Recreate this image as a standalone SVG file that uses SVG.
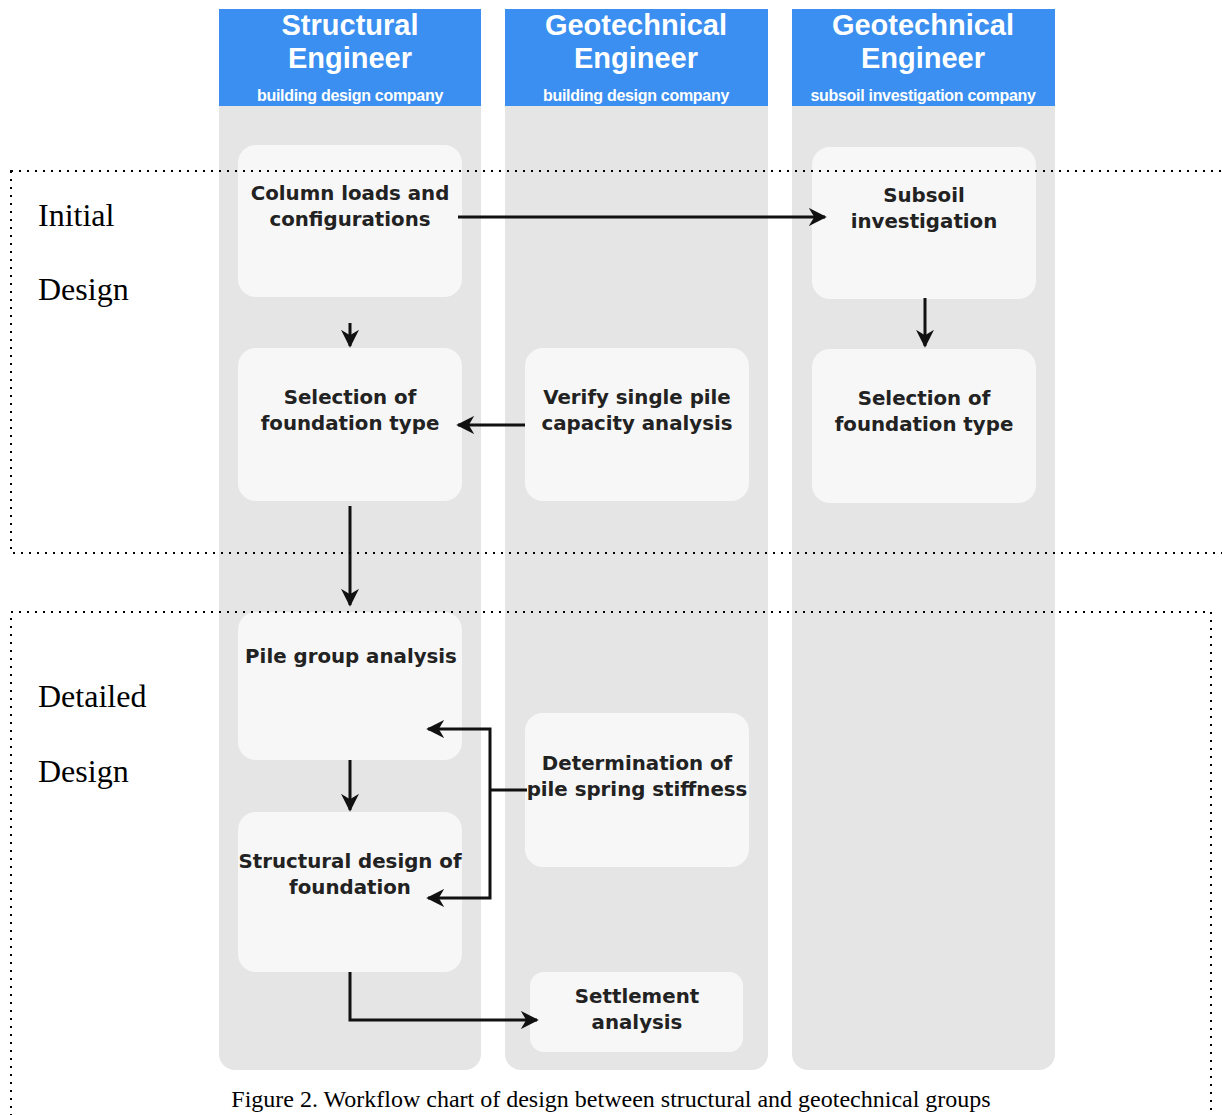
<svg xmlns="http://www.w3.org/2000/svg" width="1222" height="1115" viewBox="0 0 1222 1115">
  <defs>
    <marker id="arr" viewBox="0 0 10 10" refX="9" refY="5" markerWidth="6" markerHeight="6" orient="auto" markerUnits="strokeWidth">
      <path d="M0,0 L10,5 L0,10 L3,5 Z" fill="#111"/>
    </marker>
  </defs>
  <style>
    .lane { fill: #e5e5e5; }
    .head { fill: #3a8ff0; }
    .htitle { font-family: "Liberation Sans", Arial, sans-serif; font-weight: bold; font-size: 29px; fill: #fff; text-anchor: middle; }
    .hsub { font-family: "Liberation Sans", Arial, sans-serif; font-weight: bold; font-size: 16px; fill: #fff; text-anchor: middle; letter-spacing: -0.3px; }
    .node { fill: #f7f7f7; }
    .ntext { font-family: "DejaVu Sans", Verdana, sans-serif; font-weight: bold; font-size: 19.8px; fill: #222; text-anchor: middle; }
    .conn { fill: none; stroke: #111; stroke-width: 3; }
    .zone { fill: none; stroke: #000; stroke-width: 2; stroke-dasharray: 2 6; }
    .serif { font-family: "Liberation Serif", "Times New Roman", serif; fill: #000; }
  </style>

  <rect width="1222" height="1115" fill="#fff"/>

  <!-- swimlanes -->
  <g id="lane-structural">
    <rect class="lane" x="219" y="60" width="262" height="1010" rx="16"/>
    <rect class="head" x="219" y="9" width="262" height="97"/>
    <text class="htitle" x="350" y="35">Structural</text>
    <text class="htitle" x="350" y="68">Engineer</text>
    <text class="hsub" x="350" y="101">building design company</text>
  </g>
  <g id="lane-geo-design">
    <rect class="lane" x="505" y="60" width="263" height="1010" rx="16"/>
    <rect class="head" x="505" y="9" width="263" height="97"/>
    <text class="htitle" x="636" y="35">Geotechnical</text>
    <text class="htitle" x="636" y="68">Engineer</text>
    <text class="hsub" x="636" y="101">building design company</text>
  </g>
  <g id="lane-geo-subsoil">
    <rect class="lane" x="792" y="60" width="263" height="1010" rx="16"/>
    <rect class="head" x="792" y="9" width="263" height="97"/>
    <text class="htitle" x="923" y="35">Geotechnical</text>
    <text class="htitle" x="923" y="68">Engineer</text>
    <text class="hsub" x="923" y="101">subsoil investigation company</text>
  </g>

  <!-- process steps -->
  <g id="n-column-loads">
    <rect class="node" x="238" y="145" width="224" height="152" rx="18"/>
    <text class="ntext" x="350" y="200">Column loads and</text>
    <text class="ntext" x="350" y="226">configurations</text>
  </g>
  <g id="n-subsoil">
    <rect class="node" x="812" y="147" width="224" height="152" rx="18"/>
    <text class="ntext" x="924" y="202">Subsoil</text>
    <text class="ntext" x="924" y="228">investigation</text>
  </g>
  <g id="n-selection-struct">
    <rect class="node" x="238" y="348" width="224" height="153" rx="18"/>
    <text class="ntext" x="350" y="404">Selection of</text>
    <text class="ntext" x="350" y="430">foundation type</text>
  </g>
  <g id="n-verify">
    <rect class="node" x="525" y="348" width="224" height="153" rx="18"/>
    <text class="ntext" x="637" y="404">Verify single pile</text>
    <text class="ntext" x="637" y="430">capacity analysis</text>
  </g>
  <g id="n-selection-geo">
    <rect class="node" x="812" y="349" width="224" height="154" rx="18"/>
    <text class="ntext" x="924" y="405">Selection of</text>
    <text class="ntext" x="924" y="431">foundation type</text>
  </g>
  <g id="n-pile-group">
    <rect class="node" x="238" y="612" width="224" height="148" rx="18"/>
    <text class="ntext" x="351" y="663">Pile group analysis</text>
  </g>
  <g id="n-structural-design">
    <rect class="node" x="238" y="812" width="224" height="160" rx="18"/>
    <text class="ntext" x="350" y="868">Structural design of</text>
    <text class="ntext" x="350" y="894">foundation</text>
  </g>
  <g id="n-spring">
    <rect class="node" x="525" y="713" width="224" height="154" rx="18"/>
    <text class="ntext" x="637" y="770">Determination of</text>
    <text class="ntext" x="637" y="796">pile spring stiffness</text>
  </g>
  <g id="n-settlement">
    <rect class="node" x="530" y="972" width="213" height="80" rx="14"/>
    <text class="ntext" x="637" y="1003">Settlement</text>
    <text class="ntext" x="637" y="1029">analysis</text>
  </g>

  <!-- connectors -->
  <g id="connectors">
    <path class="conn" d="M458,217 H825" marker-end="url(#arr)"/>
    <path class="conn" d="M350,323 V346" marker-end="url(#arr)"/>
    <path class="conn" d="M925,298 V346" marker-end="url(#arr)"/>
    <path class="conn" d="M525,425 H458" marker-end="url(#arr)"/>
    <path class="conn" d="M350,506 V605" marker-end="url(#arr)"/>
    <path class="conn" d="M350,760 V810" marker-end="url(#arr)"/>
    <path class="conn" d="M527,790 H490"/>
    <path class="conn" d="M490,790 V729 H428" marker-end="url(#arr)"/>
    <path class="conn" d="M490,790 V898 H428" marker-end="url(#arr)"/>
    <path class="conn" d="M350,972 V1020 H537" marker-end="url(#arr)"/>
  </g>

  <!-- design stage frames, drawn over the lanes -->
  <g id="stage-initial">
    <rect class="zone" x="11" y="171" width="1215" height="382"/>
    <text class="serif" x="38" y="226" font-size="32">Initial</text>
    <text class="serif" x="38" y="300" font-size="32">Design</text>
  </g>
  <g id="stage-detailed">
    <rect class="zone" x="11" y="612" width="1200" height="520"/>
    <text class="serif" x="38" y="707" font-size="32">Detailed</text>
    <text class="serif" x="38" y="782" font-size="32">Design</text>
  </g>

  <text class="serif" x="611" y="1107" font-size="24" text-anchor="middle">Figure 2. Workflow chart of design between structural and geotechnical groups</text>
</svg>
